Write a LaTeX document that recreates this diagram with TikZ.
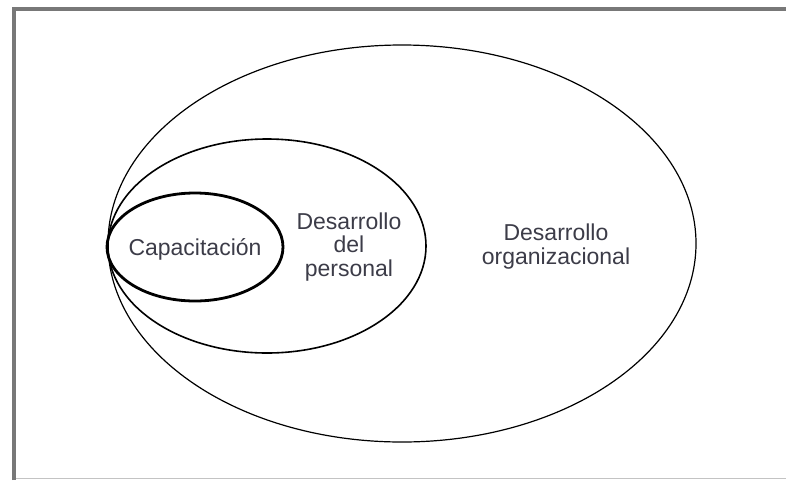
\documentclass[tikz,border=0pt]{standalone}
\usepackage{fontspec}
\setmainfont{Liberation Sans}
\usetikzlibrary{shapes.geometric}
\definecolor{txtgray}{RGB}{60,60,72}
\definecolor{framegray}{RGB}{120,120,120}
\definecolor{basegray}{RGB}{195,195,195}
\tikzset{
  ring/.style={ellipse, draw, inner sep=0pt},
  lbl/.style={text=txtgray, align=center, inner sep=0pt, font=\fontsize{23}{23.5}\selectfont}
}
\begin{document}
\begin{tikzpicture}[x=1pt, y=-1pt]
		\useasboundingbox (0,0) rectangle (786,480);

		% frame
		\draw[basegray, line width=1.5pt] (13,478.5) -- (786,478.5);
		\draw[framegray, line width=4pt] (13.5,480) -- (13.5,8.5) -- (786,8.5);

		% rings
		\draw (402,243.5) node (org) [ring, line width=1.2pt, minimum width=588pt, minimum height=397pt] {};
		\draw (267,246) node (per) [ring, line width=1.6pt, minimum width=318pt, minimum height=214pt] {};
		\draw (195,247) node (cap) [ring, line width=2.8pt, minimum width=176pt, minimum height=108pt] {};

		% labels
		\node (capt) [lbl] at (195,249) {Capacitación};
		\node (pert) [lbl] at (349,247) {Desarrollo\\del\\personal};
		\node (orgt) [lbl] at (556,246.5) {Desarrollo\\organizacional};
	\end{tikzpicture}
\end{document}
